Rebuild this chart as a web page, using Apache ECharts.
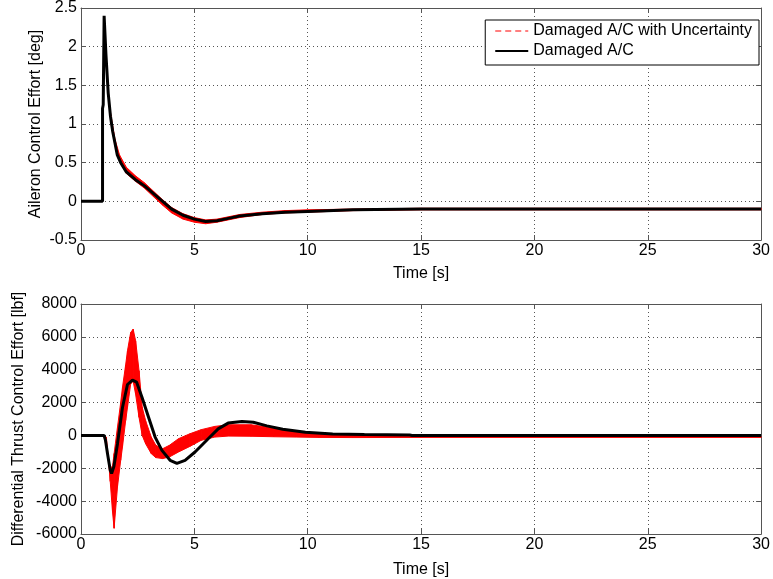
<!DOCTYPE html>
<html>
<head>
<meta charset="utf-8">
<script src="https://cdn.jsdelivr.net/npm/echarts@6/dist/echarts.min.js"></script>
<style>
html,body{margin:0;padding:0;background:#fff;}
#chart{width:773px;height:579px;}
</style>
</head>
<body>
<div id="chart"></div>
<script>
// ---------- data ----------
const xTicks = [0, 5, 10, 15, 20, 25, 30];
const yTicksTop = [-0.5, 0, 0.5, 1, 1.5, 2, 2.5];
const yTicksBottom = [-6000, -4000, -2000, 0, 2000, 4000, 6000, 8000];

const seriesNames = ['Damaged A/C with Uncertainty', 'Damaged A/C'];
const xTitle = 'Time [s]';
const yTitleTop = 'Aileron Control Effort [deg]';
const yTitleBottom = 'Differential Thrust Control Effort [lbf]';

// Top: aileron, nominal damaged A/C
const timeTop = [0, 0.95, 0.95, 0.98, 1.02, 1.1, 1.2, 1.3, 1.4, 1.5, 1.6, 1.75, 2.0, 2.4, 2.8, 3.2, 3.6, 4.0, 4.5, 5.0, 5.5, 6.0, 6.5, 7.0, 8.0, 9.0, 10, 12, 15, 30];
const aileronBlack = [0, 0, 1.2, 1.25, 2.4, 1.9, 1.4, 1.1, 0.9, 0.75, 0.6, 0.5, 0.38, 0.28, 0.2, 0.1, 0.0, -0.1, -0.18, -0.23, -0.26, -0.25, -0.22, -0.19, -0.16, -0.14, -0.13, -0.11, -0.1, -0.1];

// Top: aileron, with uncertainty (envelope of the band)
const timeTopBand = [1.3, 1.5, 1.7, 2.0, 2.4, 2.8, 3.2, 3.6, 4.0, 4.5, 5.0, 5.5, 6.0, 6.5, 7.0, 8.0, 9.0, 10, 12, 15, 30];
const aileronBandUpper = [1.15, 0.8, 0.6, 0.44, 0.33, 0.24, 0.13, 0.02, -0.08, -0.16, -0.21, -0.24, -0.23, -0.2, -0.17, -0.14, -0.12, -0.11, -0.1, -0.09, -0.09];
const aileronBandLower = [1.05, 0.72, 0.54, 0.36, 0.26, 0.17, 0.06, -0.05, -0.15, -0.23, -0.27, -0.29, -0.27, -0.24, -0.21, -0.17, -0.15, -0.14, -0.12, -0.11, -0.11];

// Bottom: differential thrust, nominal damaged A/C
const timeBottom = [0, 1.02, 1.08, 1.17, 1.29, 1.35, 1.45, 1.61, 1.83, 2.05, 2.27, 2.45, 2.69, 2.98, 3.27, 3.57, 3.93, 4.23, 4.59, 5.03, 5.61, 6.05, 6.49, 7.1, 7.6, 8.2, 8.9, 9.9, 11.1, 12.5, 14.5, 14.6, 30];
const thrustBlack = [0, 0, -300, -1110, -2120, -2320, -1900, -500, 1700, 3100, 3370, 3250, 2320, 1110, -100, -910, -1515, -1700, -1515, -1010, -200, 400, 750, 850, 800, 580, 380, 200, 80, 50, 30, 0, 0];

// Bottom: differential thrust, with uncertainty (envelope of the band)
const timeBand = [1.0, 1.12, 1.2, 1.29, 1.39, 1.46, 1.61, 1.75, 1.83, 1.97, 2.05, 2.19, 2.3, 2.41, 2.56, 2.7, 2.85, 3.1, 3.3, 3.6, 3.9, 4.3, 4.8, 5.3, 5.9, 6.5, 7.5, 8.5, 9.5, 10.5, 12, 15, 30];
const thrustBandUpper = [0, -700, -1300, -1950, -1900, -1100, 500, 2000, 2930, 4300, 5150, 6260, 6470, 5760, 3940, 1715, 900, -100, -600, -810, -600, -200, 100, 350, 550, 650, 650, 450, 250, 100, 20, -60, -60];
const thrustBandLower = [0, -100, -1330, -2800, -4650, -5650, -3130, -1515, -700, 910, 1700, 3130, 3300, 2500, 1100, 0, -505, -1110, -1350, -1410, -1310, -1010, -670, -300, -100, -40, -50, -80, -100, -120, -130, -120, -120];

// ---------- build ----------
const FONT = 'Liberation Sans, Arial, Helvetica, sans-serif';
const FS = 16;
const zip = (xs, ys) => xs.map((x, i) => [x, ys[i]]);
const quads = (ts, lo, hi) => {
  const out = [];
  for (let i = 0; i < ts.length - 1; i++) {
    out.push([ts[i], lo[i], hi[i], ts[i + 1], lo[i + 1], hi[i + 1]]);
  }
  return out;
};
function bandRender(params, api) {
  const a = api.coord([api.value(0), api.value(1)]);
  const b = api.coord([api.value(0), api.value(2)]);
  const c = api.coord([api.value(3), api.value(5)]);
  const d = api.coord([api.value(3), api.value(4)]);
  return {
    type: 'polygon',
    shape: { points: [a, b, c, d] },
    style: { fill: '#ff0000', stroke: '#ff0000', lineWidth: 1 }
  };
}

const grids = [
  { left: 81, right: 8, top: 8, height: 232 },
  { left: 81, right: 8, top: 304, height: 230 }
];
const axisColor = '#555';
function xAxisMain(gi, margin, gap) {
  return {
    type: 'value', gridIndex: gi, position: 'bottom',
    min: xTicks[0], max: xTicks[xTicks.length - 1], interval: xTicks[1] - xTicks[0],
    name: xTitle, nameLocation: 'middle', nameGap: gap,
    nameTextStyle: { fontFamily: FONT, fontSize: FS, color: '#000' },
    axisLine: { show: true, onZero: false, lineStyle: { color: axisColor, width: 1 } },
    axisTick: { show: true, inside: true, length: 5, lineStyle: { color: axisColor } },
    axisLabel: { fontFamily: FONT, fontSize: FS, color: '#000', margin: margin },
    splitLine: { show: true, lineStyle: { color: axisColor, type: [1, 3], width: 1 } }
  };
}
function xAxisTop(gi) {
  return {
    type: 'value', gridIndex: gi, position: 'top',
    min: xTicks[0], max: xTicks[xTicks.length - 1], interval: xTicks[1] - xTicks[0],
    axisLine: { show: true, onZero: false, lineStyle: { color: axisColor, width: 1 } },
    axisTick: { show: true, inside: true, length: 5, lineStyle: { color: axisColor } },
    axisLabel: { show: false }, splitLine: { show: false }
  };
}
function yAxisMain(gi, ticks, title, gap) {
  return {
    type: 'value', gridIndex: gi, position: 'left',
    min: ticks[0], max: ticks[ticks.length - 1], interval: ticks[1] - ticks[0],
    name: title, nameLocation: 'middle', nameGap: gap, nameRotate: 90,
    nameMoveOverlap: false,
    nameTextStyle: { fontFamily: FONT, fontSize: FS, color: '#000' },
    axisLine: { show: true, onZero: false, lineStyle: { color: axisColor, width: 1 } },
    axisTick: { show: true, inside: true, length: 5, lineStyle: { color: axisColor } },
    axisLabel: { fontFamily: FONT, fontSize: FS, color: '#000', margin: 4,
                 formatter: v => String(v) },
    splitLine: { show: true, lineStyle: { color: axisColor, type: [1, 3], width: 1 } }
  };
}
function yAxisRight(gi, ticks) {
  return {
    type: 'value', gridIndex: gi, position: 'right',
    min: ticks[0], max: ticks[ticks.length - 1], interval: ticks[1] - ticks[0],
    axisLine: { show: true, onZero: false, lineStyle: { color: axisColor, width: 1 } },
    axisTick: { show: true, inside: true, length: 5, lineStyle: { color: axisColor } },
    axisLabel: { show: false }, splitLine: { show: false }
  };
}

const option = {
  animation: false,
  backgroundColor: '#fff',
  grid: grids,
  xAxis: [xAxisMain(0, 3, 26), xAxisTop(0), xAxisMain(1, 3, 28), xAxisTop(1)],
  yAxis: [yAxisMain(0, yTicksTop, yTitleTop, 37), yAxisRight(0, yTicksTop),
          yAxisMain(1, yTicksBottom, yTitleBottom, 54), yAxisRight(1, yTicksBottom)],
  legend: {
    data: seriesNames,
    orient: 'vertical', right: 14, top: 20,
    itemWidth: 33, itemHeight: 14, itemGap: 4,
    padding: [3, 7, 6, 9],
    backgroundColor: '#fff', borderColor: '#000', borderWidth: 1, borderRadius: 0,
    itemStyle: { opacity: 0 },
    textStyle: { fontFamily: FONT, fontSize: FS, color: '#000' }
  },
  series: [
    { // legend entry for the uncertainty band
      name: seriesNames[0], type: 'line', xAxisIndex: 0, yAxisIndex: 0,
      data: [], symbol: 'none',
      itemStyle: { color: '#ff7f7f' },
      lineStyle: { color: '#ff7f7f', type: [6, 4], width: 1.5 }
    },
    {
      name: 'bandTop', type: 'custom', xAxisIndex: 0, yAxisIndex: 0,
      renderItem: bandRender, clip: true, z: 2,
      encode: { x: [0, 3], y: [1, 2, 4, 5] },
      data: quads(timeTopBand, aileronBandLower, aileronBandUpper)
    },
    {
      name: seriesNames[1], type: 'line', xAxisIndex: 0, yAxisIndex: 0,
      data: zip(timeTop, aileronBlack), symbol: 'none', z: 3,
      itemStyle: { color: '#000' },
      lineStyle: { color: '#000', width: 3 }
    },
    {
      name: 'bandBottom', type: 'custom', xAxisIndex: 2, yAxisIndex: 2,
      renderItem: bandRender, clip: true, z: 2,
      encode: { x: [0, 3], y: [1, 2, 4, 5] },
      data: quads(timeBand, thrustBandLower, thrustBandUpper)
    },
    {
      name: 'thrustBlack', type: 'line', xAxisIndex: 2, yAxisIndex: 2,
      data: zip(timeBottom, thrustBlack), symbol: 'none', z: 3,
      itemStyle: { color: '#000' },
      lineStyle: { color: '#000', width: 3 }
    }
  ]
};
const chart = echarts.init(document.getElementById('chart'), null, { renderer: 'canvas' });
chart.setOption(option);
</script>
</body>
</html>
